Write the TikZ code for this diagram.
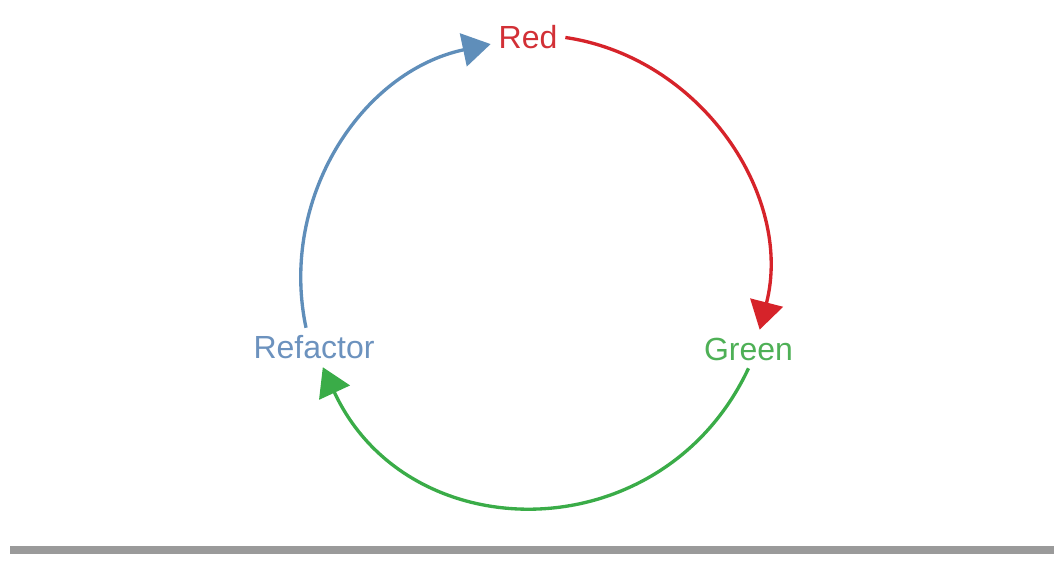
\documentclass[tikz,border=0pt]{standalone}
\usepackage{fontspec}
\setmainfont{Liberation Sans}
\usetikzlibrary{arrows.meta}

\definecolor{redline}{RGB}{214,35,42}
\definecolor{greenline}{RGB}{58,172,72}
\definecolor{blueline}{RGB}{95,142,186}
\definecolor{redtext}{RGB}{210,48,54}
\definecolor{greentext}{RGB}{78,176,86}
\definecolor{bluetext}{RGB}{108,146,190}
\definecolor{barcol}{RGB}{154,154,154}

\tikzset{
  step label/.style={inner sep=5.8pt, font=\fontsize{24}{28}\selectfont},
  cycle arc/.style={line width=2.5pt, -{Triangle[length=21pt,width=25pt]}},
}

\begin{document}
\begin{tikzpicture}[x=0.75pt,y=0.75pt]
  \useasboundingbox (0,0) rectangle (1063,564);

  % Text Node
  \node[step label, text=redtext] (red) at (528,526.5) {Red};
  % Text Node
  \node[step label, text=greentext] (green) at (748.5,215) {Green};
  % Text Node
  \node[step label, text=bluetext] (refactor) at (314,216.5) {Refactor};

  %Curve Lines
  \draw[cycle arc, redline] (red.east) to[bend left=48] (green.60);
  %Curve Lines
  \draw[cycle arc, greenline] (green.south) to[bend left=65, looseness=1.22] (refactor.-66);
  %Curve Lines
  \draw[cycle arc, blueline] (refactor.112) to[bend left=45] (red.190);

  %Shape: Rectangle
  \fill[barcol] (10,10) rectangle (1054,18);
\end{tikzpicture}
\end{document}
